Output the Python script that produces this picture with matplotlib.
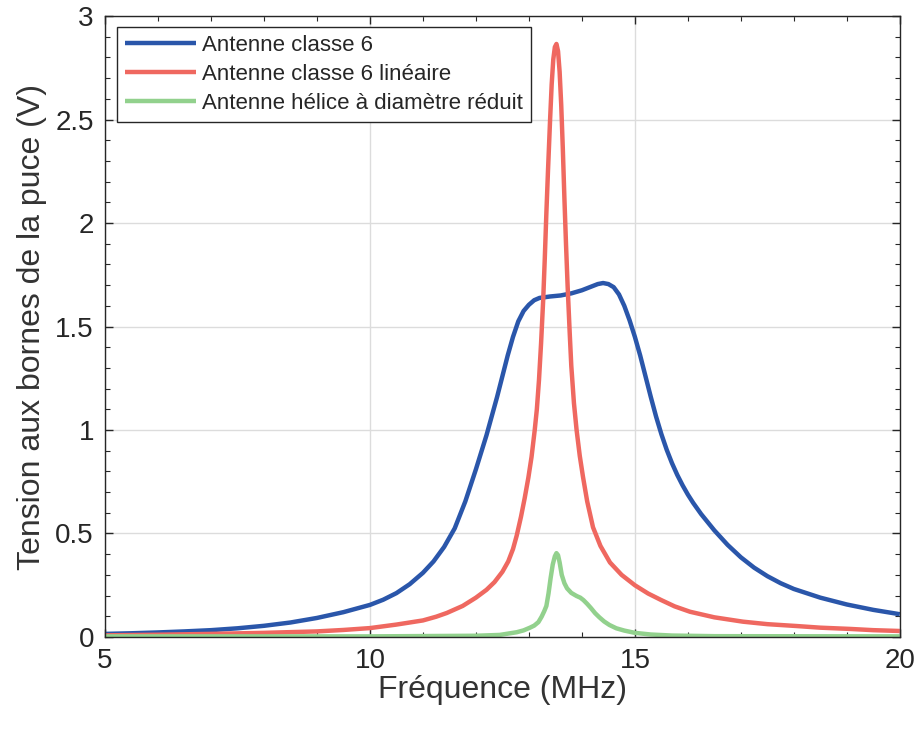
import matplotlib
matplotlib.use('Agg')
import matplotlib.pyplot as plt
from matplotlib.ticker import MultipleLocator

plt.rcParams['font.family'] = ['Liberation Sans', 'DejaVu Sans']

# values
freq_blue = [5.0, 5.5, 6.0, 6.5, 7.0, 7.5, 8.0, 8.5, 9.0, 9.5, 10.0, 10.25, 10.5, 10.75,
             11.0, 11.2, 11.4, 11.6, 11.8, 12.0, 12.2, 12.4, 12.5, 12.6, 12.7, 12.8, 12.9,
             13.0, 13.1, 13.2, 13.4, 13.6, 13.8, 14.0, 14.15, 14.3, 14.4, 14.5, 14.6, 14.7,
             14.8, 14.9, 15.0, 15.1, 15.2, 15.3, 15.4, 15.5, 15.6, 15.7, 15.8, 15.9, 16.0,
             16.1, 16.25, 16.5, 16.75, 17.0, 17.25, 17.5, 17.75, 18.0, 18.5, 19.0, 19.5, 20.0]
v_blue = [0.015, 0.018, 0.022, 0.027, 0.033, 0.042, 0.054, 0.07, 0.092, 0.12, 0.155, 0.18,
          0.212, 0.255, 0.31, 0.365, 0.435, 0.525, 0.655, 0.81, 0.975, 1.16, 1.26, 1.36,
          1.45, 1.525, 1.575, 1.605, 1.627, 1.638, 1.645, 1.65, 1.66, 1.675, 1.69, 1.705,
          1.71, 1.705, 1.69, 1.655, 1.60, 1.53, 1.45, 1.36, 1.26, 1.16, 1.065, 0.98, 0.905,
          0.84, 0.783, 0.733, 0.688, 0.648, 0.594, 0.515, 0.445, 0.385, 0.335, 0.294, 0.26,
          0.232, 0.19, 0.157, 0.131, 0.11]

freq_red = [5.0, 6.0, 7.0, 8.0, 9.0, 9.5, 10.0, 10.5, 11.0, 11.25, 11.45, 11.75, 12.0, 12.2,
            12.35, 12.5, 12.61, 12.7, 12.77, 12.85, 12.92, 12.99, 13.05, 13.11, 13.15, 13.19,
            13.23, 13.27, 13.3, 13.33, 13.36, 13.4, 13.43, 13.46, 13.49, 13.52, 13.55,
            13.58, 13.61, 13.64, 13.67, 13.7, 13.73, 13.77, 13.8, 13.85, 13.9, 13.96, 14.02,
            14.1, 14.21, 14.35, 14.53, 14.75, 15.0, 15.25, 15.5, 15.75, 16.04, 16.5, 17.04,
            17.5, 18.05, 18.5, 19.06, 19.5, 20.0]
v_red = [0.008, 0.011, 0.015, 0.02, 0.027, 0.034, 0.043, 0.06, 0.08, 0.098, 0.116, 0.15,
         0.19, 0.228, 0.265, 0.315, 0.365, 0.425, 0.49, 0.58, 0.67, 0.77, 0.87, 1.0, 1.10,
         1.24, 1.42, 1.63, 1.83, 2.05, 2.25, 2.50, 2.67, 2.79, 2.85, 2.865, 2.83,
         2.73, 2.57, 2.36, 2.12, 1.90, 1.70, 1.47, 1.31, 1.13, 1.00, 0.875, 0.775,
         0.655, 0.53, 0.44, 0.36, 0.30, 0.25, 0.21, 0.178, 0.148, 0.122, 0.095, 0.074,
         0.062, 0.053, 0.045, 0.039, 0.033, 0.029]

freq_green = [5.0, 10.0, 12.0, 12.45, 12.77, 12.9, 13.02, 13.1, 13.18, 13.24, 13.29, 13.33,
              13.37, 13.41, 13.45, 13.49, 13.52, 13.55, 13.58, 13.62, 13.67, 13.72, 13.8,
              13.9, 13.97, 14.03, 14.1, 14.17, 14.25, 14.33, 14.42, 14.52, 14.65, 14.8,
              15.0, 15.3, 15.7, 16.5, 20.0]
v_green = [0.003, 0.003, 0.006, 0.01, 0.023, 0.032, 0.045, 0.055, 0.072, 0.098, 0.125, 0.15,
           0.21, 0.285, 0.35, 0.39, 0.405, 0.395, 0.36, 0.30, 0.26, 0.235, 0.213,
           0.198, 0.19, 0.178, 0.16, 0.14, 0.115, 0.095, 0.075, 0.058, 0.042, 0.031,
           0.02, 0.012, 0.007, 0.004, 0.003]

labels = ['Antenne classe 6', 'Antenne classe 6 linéaire',
          'Antenne hélice à diamètre réduit']
colors = ['#2a56aa', '#ef6860', '#92d18d']

fig = plt.figure(figsize=(9.21, 7.31), dpi=100)
ax = fig.add_axes([0.114, 0.1286, 0.863, 0.8495])

lw = 3.2
for f, v, c, lab in [(freq_blue, v_blue, colors[0], labels[0]),
                     (freq_red, v_red, colors[1], labels[1]),
                     (freq_green, v_green, colors[2], labels[2])]:
    ax.plot(f, v, color=c, lw=lw, label=lab, solid_joinstyle='round',
            solid_capstyle='butt')

ax.set_xlim(5, 20)
ax.set_ylim(0, 3)
ax.xaxis.set_major_locator(MultipleLocator(5))
ax.xaxis.set_minor_locator(MultipleLocator(1))
ax.yaxis.set_minor_locator(MultipleLocator(0.1))
ax.set_yticks([0, 0.5, 1, 1.5, 2, 2.5, 3])
ax.set_yticklabels(['0', '0.5', '1', '1.5', '2', '2.5', '3'])

ax.grid(True, which='major', color='#dcdcdc', lw=1.0)
ax.set_axisbelow(True)
ax.tick_params(which='both', direction='in', top=True, right=True,
               colors='#262626', labelsize=20, pad=8)
ax.tick_params(which='major', length=6, width=1.0)
ax.tick_params(which='minor', length=3.5, width=0.8)
for s in ax.spines.values():
    s.set_color('#262626')
    s.set_linewidth(1.0)

ax.set_xlabel('Fréquence (MHz)', fontsize=23, color='#333333', labelpad=1)
ax.set_ylabel('Tension aux bornes de la puce (V)', fontsize=23, color='#333333', labelpad=6)

leg = ax.legend(loc='upper left', bbox_to_anchor=(0.015, 0.982), fontsize=16,
                handlelength=3.2, labelspacing=0.36, borderpad=0.35,
                handletextpad=0.3, fancybox=False, framealpha=1, borderaxespad=0)
leg.get_frame().set_edgecolor('#262626')
leg.get_frame().set_linewidth(1.0)
for t in leg.get_texts():
    t.set_color('#262626')

plt.savefig('out.png', dpi=100)
